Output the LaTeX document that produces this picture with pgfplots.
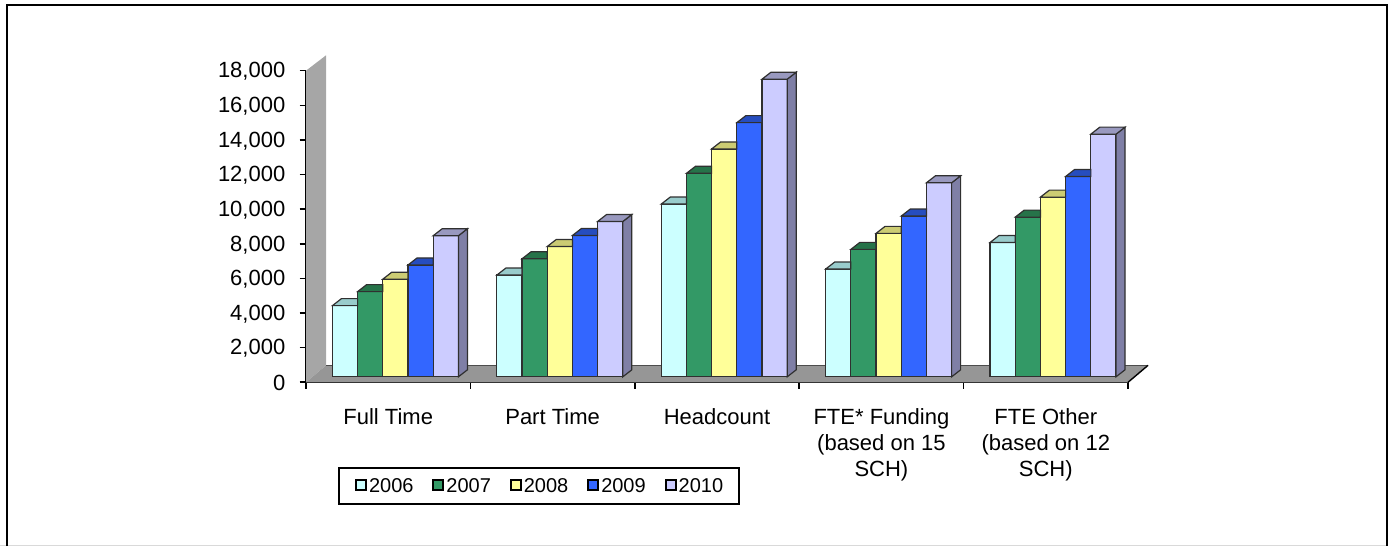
\documentclass[border=0pt]{standalone}
\usepackage{fontspec}
\setmainfont{Liberation Sans}
\usepackage{pgfplots}
\usepackage{pgfplotstable}
\pgfplotsset{compat=1.18}

\definecolor{f2006}{HTML}{CCFFFF}\definecolor{t2006}{HTML}{99CCCC}
\definecolor{f2007}{HTML}{339966}\definecolor{t2007}{HTML}{267349}
\definecolor{f2008}{HTML}{FFFF99}\definecolor{t2008}{HTML}{CCCC73}
\definecolor{f2009}{HTML}{3366FF}\definecolor{t2009}{HTML}{264DBF}
\definecolor{f2010}{HTML}{CCCCFF}\definecolor{t2010}{HTML}{9999BF}\definecolor{s2010}{HTML}{7F7FA6}
\definecolor{edgec}{HTML}{303030}
\definecolor{wallc}{HTML}{A6A6A6}
\definecolor{floorc}{HTML}{969696}

% visible part of the top face of a bar that has a taller neighbour on its right
\newcommand{\declaretopmark}[2]{%
  \pgfdeclareplotmark{#1}{%
    \pgftransformxshift{#2}%
    \pgfsetlinewidth{1.2pt}%
    \pgfsetstrokecolor{edgec}%
    \pgfsetfillcolor{t#1}%
    \pgfpathmoveto{\pgfqpoint{-12.6pt}{0pt}}%
    \pgfpathlineto{\pgfqpoint{-3.6pt}{7pt}}%
    \pgfpathlineto{\pgfqpoint{12.6pt}{7pt}}%
    \pgfpathlineto{\pgfqpoint{12.6pt}{0pt}}%
    \pgfpathclose
    \pgfusepathqfillstroke
  }%
}
\declaretopmark{2006}{-50.4pt}
\declaretopmark{2007}{-25.2pt}
\declaretopmark{2008}{0pt}
\declaretopmark{2009}{25.2pt}
% last bar of a group: side and top faces
\pgfdeclareplotmark{2010}{%
  \pgftransformxshift{50.4pt}%
  \pgfsetlinewidth{1.2pt}%
  \pgfsetstrokecolor{edgec}%
  \pgfsetfillcolor{s2010}%
  \pgfpathmoveto{\pgfqpoint{12.6pt}{0pt}}%
  \pgfpathlineto{\pgfqpoint{21.6pt}{7pt}}%
  \pgfpathlineto{\pgfpoint{21.6pt}{7pt-\barh pt}}%
  \pgfpathlineto{\pgfpoint{12.6pt}{-\barh pt}}%
  \pgfpathclose
  \pgfusepathqfillstroke
  \pgfsetfillcolor{t2010}%
  \pgfpathmoveto{\pgfqpoint{-12.6pt}{0pt}}%
  \pgfpathlineto{\pgfqpoint{-3.6pt}{7pt}}%
  \pgfpathlineto{\pgfqpoint{21.6pt}{7pt}}%
  \pgfpathlineto{\pgfqpoint{12.6pt}{0pt}}%
  \pgfpathclose
  \pgfusepathqfillstroke
}

\pgfplotstableread{
cat v
0 4110
1 5875
2 9977
3 6222
4 7758
}\tblA
\pgfplotstableread{
cat v
0 4920
1 6817
2 11753
3 7360
4 9224
}\tblB
\pgfplotstableread{
cat v
0 5640
1 7527
2 13162
3 8284
4 10380
}\tblC
\pgfplotstableread{
cat v
0 6460
1 8163
2 14681
3 9284
4 11573
}\tblD
\pgfplotstableread{
cat v
0 8150
1 8972
2 17193
3 11207
4 14017
}\tblE

\pgfplotsset{
  sq/.style={legend image code/.code={\path (-3pt,0pt); \draw[##1,line width=2pt,draw=black] (0pt,-4.5pt) rectangle (10pt,5.5pt);}},
  faces/.style={only marks, forget plot, scatter, point meta=y,
    scatter/use mapped color={draw=edgec},
    visualization depends on={\thisrow{v}*0.017311\as\barh},
    mark=#1},
  front/.style n args={2}{ybar, bar width=25.2pt, bar shift=#1, fill=f#2, draw=edgec, line width=1.2pt, sq},
}

\begin{document}
\begin{tikzpicture}[x=1pt,y=1pt]
\path[use as bounding box] (0,0) rectangle (1388,546);
\draw[line width=0.8pt,draw=black!15] (0,0.8) -- (1388,0.8);
\draw[line width=2.2pt] (7,0) -- (7,541) -- (1387,541) -- (1387,0);

% frame axis: walls, axis lines, ticks and labels
\begin{axis}[
  at={(306pt,163.7pt)}, anchor=south west,
  scale only axis, width=822pt, height=311.6pt,
  xmin=0, xmax=5, ymin=0, ymax=18000,
  clip=false,
  axis x line=bottom, axis y line=left,
  axis line style={-, line width=2.2pt, black},
  tick style={line width=1.6pt, black},
  tick align=outside, major tick length=6.5pt,
  xtick={0,1,2,3,4,5},
  x tick label as interval,
  xticklabels={Full Time,Part Time,Headcount,{FTE* Funding\\(based on 15\\SCH)},{FTE Other\\(based on 12\\SCH)}},
  xticklabel style={font=\fontsize{22}{25.8}\selectfont, align=center, inner sep=0pt, yshift=-20pt},
  ytick={0,2000,...,18000},
  yticklabel style={font=\fontsize{22}{25.8}\selectfont, inner sep=0pt, xshift=-14pt, yshift=-1pt,
    /pgf/number format/assume math mode=true, /pgf/number format/1000 sep={,}},
  scaled y ticks=false,
]
\addplot[fill=wallc, draw=none] coordinates {(0,0) (0,18000) (0.122,18890) (0.122,982)} -- cycle;
\addplot[fill=floorc, draw=none] coordinates {(0,0) (0.122,982) (5.122,982) (5,0)} -- cycle;
\addplot[draw=black!70, line width=0.8pt] coordinates {(0.122,982) (5.122,982)};
\addplot[draw=black, line width=1.4pt] coordinates {(5,0) (5.122,982)};
\end{axis}

% bar axis: same box, its zero lies on the raised floor line of the columns
\begin{axis}[
  at={(306pt,163.7pt)}, anchor=south west,
  scale only axis, width=822pt, height=311.6pt,
  xmin=-0.544, xmax=4.456, ymin=-318, ymax=17682,
  clip=false, hide axis,
  legend style={at={(rel axis cs:0.0389,-0.272)}, anchor=north west,
    draw=black, line width=2pt, fill=white,
    font=\fontsize{20}{22}\selectfont,
    legend columns=5,
    inner xsep=13.5pt, inner ysep=7pt,
    nodes={inner xsep=2pt, inner ysep=3pt, line width=1.6pt},
    /tikz/every even column/.append style={column sep=14.3pt}},
  legend cell align=left,
]
\addplot[front={-50.4pt}{2006}] table[x=cat,y=v]{\tblA};
\addlegendentry{2006}
\addplot[faces=2006] table[x=cat,y=v]{\tblA};
\addplot[front={-25.2pt}{2007}] table[x=cat,y=v]{\tblB};
\addlegendentry{2007}
\addplot[faces=2007] table[x=cat,y=v]{\tblB};
\addplot[front={0pt}{2008}] table[x=cat,y=v]{\tblC};
\addlegendentry{2008}
\addplot[faces=2008] table[x=cat,y=v]{\tblC};
\addplot[front={25.2pt}{2009}] table[x=cat,y=v]{\tblD};
\addlegendentry{2009}
\addplot[faces=2009] table[x=cat,y=v]{\tblD};
\addplot[front={50.4pt}{2010}] table[x=cat,y=v]{\tblE};
\addlegendentry{2010}
\addplot[faces=2010] table[x=cat,y=v]{\tblE};
\end{axis}
\end{tikzpicture}
\end{document}
